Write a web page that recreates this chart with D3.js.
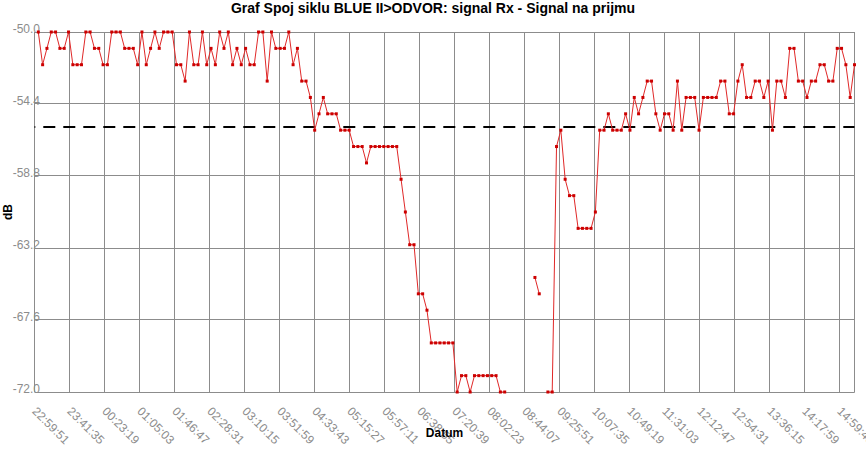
<!DOCTYPE html>
<html><head><meta charset="utf-8">
<script src="https://cdn.jsdelivr.net/npm/d3@7"></script>
<style>
body{margin:0;background:#fff}
svg{display:block;font-family:"Liberation Sans",Arial,sans-serif}
</style>
</head><body>
<svg id="chart" width="866" height="453"></svg>
<script>
// ---- data ----
const chartTitle = "Graf Spoj siklu BLUE II>ODVOR: signal Rx - Signal na prijmu";
const xTitle = "Datum";
const yTitle = "dB";
const tickLabels = ["22:59:51","23:41:35","00:23:19","01:05:03","01:46:47","02:28:31","03:10:15","03:51:59",
  "04:33:43","05:15:27","05:57:11","06:38:55","07:20:39","08:02:23","08:44:07","09:25:51","10:07:35",
  "10:49:19","11:31:03","12:12:47","12:54:31","13:36:15","14:17:59","14:59:43"];
const yTicks = [-50.0, -54.4, -58.8, -63.2, -67.6, -72.0];
const yDomain = [-72, -50];
const threshold = -55.8;
const firstSample = "23:04:23";
const sampleStepSec = 309;
const signalRx = [
  -50,-52,-51,-50,-50,-51,-51,-50,-52,-52,
  -52,-50,-50,-51,-51,-52,-52,-50,-50,-50,
  -51,-51,-51,-52,-50,-52,-51,-50,-51,-50,
  -50,-50,-52,-52,
  -53,-50,-52,-52,-50,-52,-51,-52,-50,-51,-50,-52,-51,-52,-51,-52,-52,-50,-50,-53,-50,-51,-51,-51,-50,-52,-51,-53,-53,
  -54,-56,-55,-54,-55,-55,-55,-56,-56,-56,-57,-57,-57,-58,-57,-57,-57,-57,-57,-57,-57,-59,-61,-63,-63,-66,-66,-67,-69,-69,-69,-69,-69,-69,-72,
  -71,-71,-72,-71,-71,-71,-71,-71,-71,-72,-72,
  null,null,null,null,null,null,
  -65,-66,null,
  -72,-72,-57,-56,-59,-60,-60,-62,-62,-62,-62,-61,-56,-56,-55,-56,
  -56,-56,-55,-56,-54,-55,-54,-53,-53,-55,-56,-55,-55,-56,-53,-56,-54,-54,-54,-56,-54,-54,-54,-54,-53,-53,-55,
  -55,-53,-52,-54,-54,-53,-53,-54,-53,-56,-53,-53,-54,-51,-51,-53,-53,-54,-53,-53,-52,-52,-53,-53,-51,-51,-52,-54,-52
];

// ---- helpers ----
function toSec(s){const p=s.split(":").map(Number);return p[0]*3600+p[1]*60+p[2];}
let prevSec=-1, dayOff=0;
const tickSecs = tickLabels.map(l=>{let s=toSec(l)+dayOff; if(s<prevSec){dayOff+=86400;s+=86400;} prevSec=s; return s;});
let fs = toSec(firstSample); if(fs<tickSecs[0]) fs+=86400;
const data = signalRx.map((v,i)=>({t: fs + i*sampleStepSec, v}));

// ---- layout ----
const W=866,H=453;
const pL=34.5, pR=854.5, pT=32, pB=392;
const svg=d3.select("#chart");
svg.append("rect").attr("width",W).attr("height",H).attr("fill","#fff");

const x=d3.scaleLinear().domain([tickSecs[0], data[data.length-1].t]).range([pL,pR]);
const y=d3.scaleLinear().domain(yDomain).range([pB,pT]);
const crisp=v=>Math.round(v-0.5)+0.5;
const gridColor="#8c8c8c";

// vertical grid
svg.append("g").selectAll("line").data(tickSecs).join("line")
  .attr("x1",d=>crisp(x(d))).attr("x2",d=>crisp(x(d)))
  .attr("y1",pT).attr("y2",pB)
  .attr("stroke",gridColor).attr("stroke-width",1);
// horizontal grid
svg.append("g").selectAll("line").data(yTicks).join("line")
  .attr("x1",pL).attr("x2",pR)
  .attr("y1",d=>crisp(y(d))).attr("y2",d=>crisp(y(d)))
  .attr("stroke",gridColor).attr("stroke-width",1);
// right border
svg.append("line").attr("x1",pR).attr("x2",pR).attr("y1",pT).attr("y2",pB+0.5)
  .attr("stroke",gridColor);

// y labels
svg.append("g").selectAll("text").data(yTicks).join("text")
  .attr("x",40).attr("y",d=>y(d)+0.5)
  .attr("text-anchor","end").attr("font-size",12).attr("fill","#8c8c8c")
  .text(d=>d.toFixed(1));

// x labels
svg.append("g").selectAll("text").data(tickSecs).join("text")
  .attr("transform",(d)=>`translate(${crisp(x(d))-3},${412}) rotate(45)`)
  .attr("font-size",12).attr("fill","#8c8c8c")
  .text((d,i)=>tickLabels[i]);

// threshold dashed line
svg.append("line").attr("x1",pL).attr("x2",pR)
  .attr("y1",y(threshold)).attr("y2",y(threshold))
  .attr("stroke","#000").attr("stroke-width",2)
  .attr("stroke-dasharray","12 8").attr("stroke-dashoffset",11.2);

// series line
const line=d3.line().defined(d=>d.v!=null).x(d=>x(d.t)).y(d=>y(d.v));
svg.append("path").datum(data).attr("d",line)
  .attr("fill","none").attr("stroke","#e02828").attr("stroke-width",1);
svg.append("g").selectAll("rect").data(data.filter(d=>d.v!=null)).join("rect")
  .attr("x",d=>x(d.t)-1.5).attr("y",d=>y(d.v)-1.5).attr("width",3).attr("height",3)
  .attr("fill","#cc0000");

// titles
svg.append("text").attr("x",W/2).attr("y",13).attr("text-anchor","middle")
  .attr("font-size",14).attr("font-weight","bold").attr("fill","#000").text(chartTitle);
svg.append("text").attr("x",(pL+pR)/2).attr("y",437).attr("text-anchor","middle")
  .attr("font-size",12).attr("font-weight","bold").attr("fill","#000").text(xTitle);
svg.append("text").attr("transform",`translate(12,${(pT+pB)/2}) rotate(-90)`)
  .attr("text-anchor","middle").attr("font-size",12).attr("font-weight","bold").attr("fill","#000").text(yTitle);
</script>
</body></html>
